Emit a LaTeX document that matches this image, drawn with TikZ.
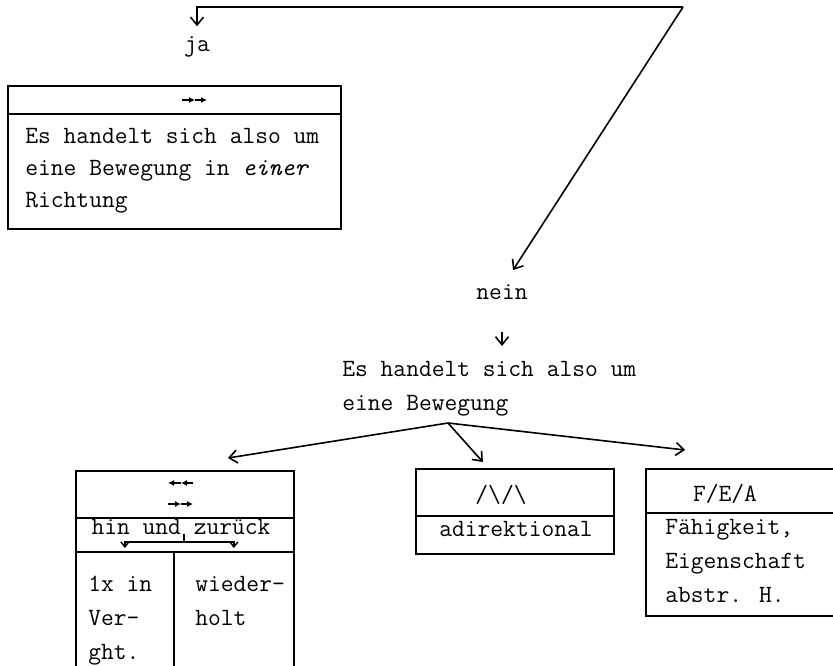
\documentclass[tikz,border=0pt]{standalone}
\usepackage{fontspec}
\usepackage{tikz}
\usetikzlibrary{positioning, arrows.meta}

\begin{document}
\begin{tikzpicture}[
  x=0.5pt, y=-0.5pt,
  font=\ttfamily\fontsize{12.4}{17}\selectfont,
  cell/.style={draw, rectangle, anchor=north west, inner sep=0pt, line width=0.9pt},
  lbl/.style={inner sep=0pt},
  txt/.style={anchor=north west, inner sep=0pt, align=left},
  arr/.style={-{Straight Barb[length=4pt, width=6.5pt]}, line width=0.8pt},
  sarr/.style={-{Straight Barb[length=2.5pt, width=4pt]}, line width=0.7pt},
  sym/.style={-{Latex[length=3pt, width=3pt]}, line width=0.8pt},
]
  \useasboundingbox (0,0) rectangle (833,665);

  % Top: question branches into ja / nein
  \coordinate (knick) at (683,7);
  \node[lbl] (ja) at (197,47) {ja};
  \node[lbl] (nein) at (502,292) {nein};
  \draw[arr] (knick) -| ([yshift=5pt]ja.north);
  \draw[arr] (knick) -- ([xshift=5.5pt, yshift=7pt]nein.north);

  % Box 1: ja
  \node[cell, minimum width=166.5pt, minimum height=14pt] (b1head) at (7,85) {};
  \node[cell, minimum width=166.5pt, minimum height=57.5pt] (b1body) at (7,113) {};
  \draw[sym] (182,100) -- (195,100);
  \draw[sym] (195,100) -- (207,100);
  \node[txt, font=\ttfamily\fontsize{12.4}{16}\selectfont] (b1text) at (25,128)
    {Es handelt sich also um\\eine Bewegung in \textit{einer}\\Richtung};

  % nein: question and three branches
  \node[txt] (frage) at (342,361) {Es handelt sich also um\\eine Bewegung};
  \draw[arr, shorten <=16pt, shorten >=7.5pt] (nein.south) -- (nein.south |- frage.north);
  \coordinate (ast) at (448,423);

  % Box 2: hin und zurueck
  \node[cell, minimum width=109pt, minimum height=23.5pt] (b2head) at (75,470) {};
  \node[cell, minimum width=109pt, minimum height=17pt] (b2row) at (75,517) {};
  \node[cell, minimum width=49pt, minimum height=65pt] (col1) at (75,551) {};
  \node[cell, minimum width=60pt, minimum height=65pt] (col2) at (173,551) {};
  \draw[sym] (193,483) -- (181,483);
  \draw[sym] (181,483) -- (168,483);
  \draw[sym] (168,504) -- (181,504);
  \draw[sym] (181,504) -- (193,504);
  \node[lbl] (hz) at (181,527) {hin und zurück};
  \coordinate (hzc) at (184,534);
  \coordinate (hzb) at (184,542);
  \draw[line width=0.7pt] (hzc) -- (hzb);
  \draw[sarr] (hzb) -| ([yshift=1.5pt]col1.north);
  \draw[sarr] (hzb) -| ([yshift=1.5pt]col2.north);
  \node[txt] (t1) at (88,576) {1x in\\Ver-\\ght.};
  \node[txt] (t2) at (195,576) {wieder-\\holt};

  % Box 3: adirektional
  \node[cell, minimum width=99pt, minimum height=23.5pt] (b3head) at (415,468) {};
  \node[cell, minimum width=99pt, minimum height=19pt] (b3body) at (415,515) {};
  \node[lbl] (zz) at (501,495) {/\textbackslash/\textbackslash};
  \node[lbl] (adir) at (516,529) {adirektional};

  % Box 4: F/E/A
  \node[cell, minimum width=112.5pt, minimum height=22pt] (b4head) at (645,468) {};
  \node[cell, minimum width=112.5pt, minimum height=51.5pt] (b4body) at (645,512) {};
  \node[lbl] (fea) at (725,494) {F/E/A};
  \node[txt] (t4) at (665,519) {Fähigkeit,\\Eigenschaft\\abstr. H.};

  % Arrows from the question
  \draw[arr] (ast) -- ([xshift=21.5pt, yshift=6pt]b2head.north);
  \draw[arr] (ast) -- ([xshift=-16pt, yshift=3pt]b3head.north);
  \draw[arr] (ast) -- ([xshift=20pt, yshift=9pt]b4head.north west);
\end{tikzpicture}
\end{document}
